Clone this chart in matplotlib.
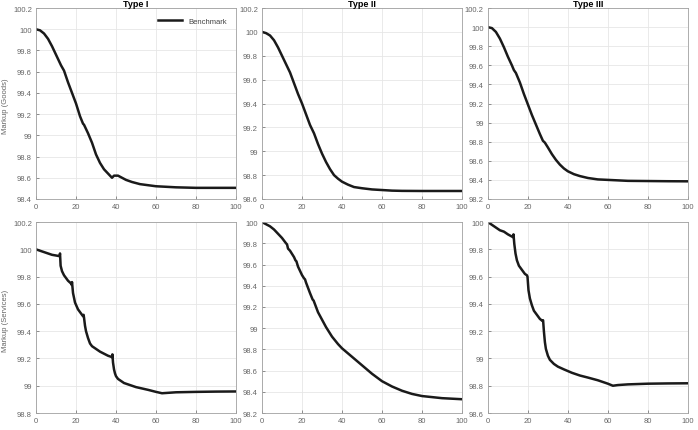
import numpy as np
import matplotlib
matplotlib.use("Agg")
import matplotlib.pyplot as plt

plt.rcParams['font.family'] = ['Liberation Sans', 'DejaVu Sans']

# Goods, Type I
g1_x = [0, 2, 4, 6, 8, 10, 12, 12.5, 14, 16, 18, 20, 22, 23.5, 24, 26, 28, 30, 32, 34, 36, 37.5, 38, 39,
        41, 43, 45, 48, 52, 56, 60, 65, 70, 80, 90, 100]
g1_y = [100.0, 99.99, 99.96, 99.91, 99.84, 99.76, 99.68, 99.66, 99.61, 99.50, 99.40, 99.30, 99.18, 99.11,
        99.10, 99.02, 98.93, 98.82, 98.74, 98.68, 98.64, 98.61, 98.60, 98.62, 98.62, 98.60, 98.58, 98.56,
        98.54, 98.53, 98.52, 98.515, 98.51, 98.505, 98.505, 98.505]

# Goods, Type II
g2_x = [0, 2, 4, 6, 8, 10, 12, 14, 16, 18, 20, 22, 24, 26, 28, 30, 32, 34, 36, 38, 40, 43, 46, 50, 55,
        60, 65, 70, 80, 90, 100]
g2_y = [100.0, 99.99, 99.97, 99.93, 99.87, 99.80, 99.73, 99.66, 99.57, 99.48, 99.40, 99.31, 99.22, 99.15,
        99.06, 98.98, 98.91, 98.85, 98.80, 98.77, 98.745, 98.72, 98.70, 98.69, 98.68, 98.675, 98.67,
        98.668, 98.667, 98.667, 98.667]

# Goods, Type III
g3_x = [0, 2, 4, 6, 8, 10, 12, 13, 14, 16, 18, 20, 22, 24, 26, 27.5, 28.5, 30, 32, 34, 36, 38, 40, 43,
        46, 50, 55, 60, 65, 70, 80, 90, 100]
g3_y = [100.0, 99.99, 99.95, 99.88, 99.79, 99.69, 99.60, 99.55, 99.52, 99.42, 99.30, 99.19, 99.08, 98.98,
        98.88, 98.81, 98.79, 98.74, 98.67, 98.61, 98.56, 98.52, 98.49, 98.46, 98.44, 98.42, 98.405, 98.40,
        98.395, 98.39, 98.388, 98.386, 98.385]

# Services, Type I
s1_x = [0, 2, 4, 6, 8, 10, 11.8, 12, 12.3, 13, 14, 15, 16, 17.5, 17.8, 18, 18.5, 19.5, 21, 22, 23.5, 23.8,
        24, 24.5, 25, 26, 27, 28, 30, 32, 34, 36, 38, 38.2, 38.5, 39, 39.5, 40, 41, 42, 44, 46, 48, 50,
        53, 56, 60, 63, 66, 70, 80, 90, 100]
s1_y = [100.0, 99.99, 99.98, 99.97, 99.96, 99.955, 99.95, 99.97, 99.88, 99.84, 99.81, 99.79, 99.77, 99.75,
        99.74, 99.76, 99.68, 99.61, 99.56, 99.54, 99.51, 99.52, 99.50, 99.44, 99.40, 99.35, 99.31, 99.29,
        99.27, 99.25, 99.235, 99.22, 99.21, 99.23, 99.17, 99.12, 99.09, 99.07, 99.05, 99.04, 99.02, 99.01,
        99.0, 98.99, 98.98, 98.97, 98.955, 98.945, 98.948, 98.952, 98.955, 98.957, 98.958]

# Services, Type II
s2_x = [0, 2, 4, 6, 8, 10, 12, 12.5, 13, 14, 16, 16.7, 17.2, 18, 19, 20, 21, 21.5, 22, 23, 24, 25.3, 25.8,
        27, 28, 30, 32, 35, 38, 40, 45, 50, 55, 60, 65, 70, 75, 80, 85, 90, 95, 100]
s2_y = [100.0, 99.98, 99.96, 99.93, 99.89, 99.85, 99.80, 99.79, 99.75, 99.73, 99.67, 99.64, 99.63, 99.58,
        99.54, 99.50, 99.47, 99.46, 99.43, 99.38, 99.33, 99.27, 99.26, 99.20, 99.15, 99.08, 99.01, 98.92,
        98.85, 98.81, 98.73, 98.65, 98.57, 98.50, 98.45, 98.41, 98.38, 98.36, 98.35, 98.34, 98.335, 98.33]

# Services, Type III
s3_x = [0, 2, 4, 6, 8, 10, 12.5, 12.8, 13.2, 13.8, 14.5, 15.5, 17, 18.5, 19.5, 19.8, 20.3, 21, 22, 23,
        24.5, 26, 27.3, 27.6, 28, 28.5, 29, 30, 31, 33, 35, 38, 42, 46, 50, 55, 60, 62.5, 65, 70, 80, 90, 100]
s3_y = [100.0, 99.98, 99.96, 99.94, 99.93, 99.91, 99.89, 99.91, 99.84, 99.77, 99.72, 99.68, 99.65, 99.62,
        99.61, 99.60, 99.50, 99.44, 99.39, 99.35, 99.32, 99.29, 99.275, 99.28, 99.20, 99.12, 99.07, 99.02,
        98.99, 98.96, 98.94, 98.92, 98.895, 98.875, 98.86, 98.84, 98.815, 98.80, 98.805, 98.81, 98.815,
        98.817, 98.818]

titles = ['Type I', 'Type II', 'Type III']
ylabels = ['Markup (Goods)', 'Markup (Services)']
series = [[(g1_x, g1_y), (g2_x, g2_y), (g3_x, g3_y)],
          [(s1_x, s1_y), (s2_x, s2_y), (s3_x, s3_y)]]
ylims = [[(98.4, 100.2), (98.6, 100.2), (98.2, 100.2)],
         [(98.8, 100.2), (98.2, 100.0), (98.6, 100.0)]]

fig = plt.figure(figsize=(6.98, 4.31), dpi=100)
lefts = [0.0516, 0.3754, 0.699]
bottoms = [0.536, 0.0394]
w, h = 0.2865, 0.443

for r in range(2):
    for c in range(3):
        ax = fig.add_axes([lefts[c], bottoms[r], w, h])
        x, y = series[r][c]
        ax.plot(x, y, color='#1a1a1a', lw=1.8, label='Benchmark')
        ax.set_xlim(0, 100)
        ax.set_ylim(*ylims[r][c])
        ax.set_xticks(np.arange(0, 101, 20))
        lo, hi = ylims[r][c]
        yt = np.round(np.arange(lo, hi + 0.01, 0.2), 1)
        ax.set_yticks(yt)
        ax.set_yticklabels(['%g' % t for t in yt])
        ax.grid(True, color='#e6e6e6', lw=0.6)
        ax.tick_params(labelsize=5.5, colors='#666666', direction='in', length=2, width=0.5, pad=3)
        for s in ax.spines.values():
            s.set_color('#a0a0a0')
            s.set_linewidth(0.6)
        if r == 0:
            ax.set_title(titles[c], fontsize=6.5, fontweight='bold', pad=1.5)
        if c == 0:
            ax.set_ylabel(ylabels[r], fontsize=5.5, color='#666666')
            ax.yaxis.set_label_coords(-0.135, 0.49)
        if r == 0 and c == 0:
            ax.legend(loc='upper right', fontsize=5.5, frameon=False, handlelength=3.2,
                      labelcolor='#444444', bbox_to_anchor=(0.99, 0.985))

fig.savefig('out.png', dpi=100)
